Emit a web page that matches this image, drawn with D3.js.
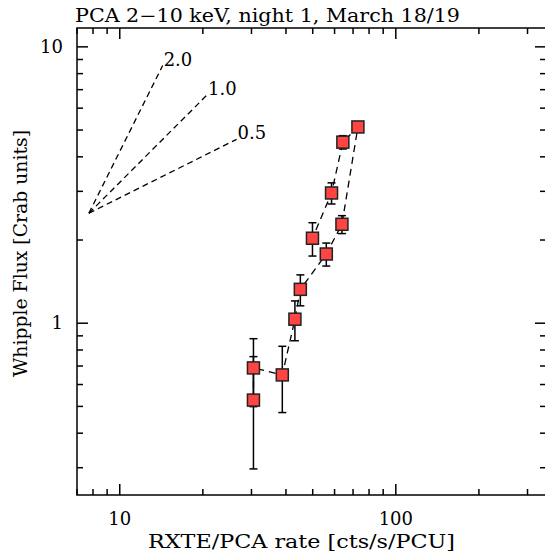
<!DOCTYPE html>
<html>
<head>
<meta charset="utf-8">
<script src="https://cdn.jsdelivr.net/npm/d3@7"></script>
<style>
  html, body { margin: 0; padding: 0; background: #fff; }
  svg text { font-family: 'DejaVu Serif', 'Liberation Serif', serif; fill: #000; }
</style>
</head>
<body>
<div id="chart"></div>
<script>
// count rate (x), Whipple flux (y) and its error, in time order
const rate = [30.5, 30.5, 38.8, 43.1, 45.1, 56.0, 63.8, 72.9, 64.3, 58.5, 49.9]
const flux = [0.527, 0.689, 0.650, 1.034, 1.326, 1.78, 2.28, 5.13, 4.52, 2.96, 2.03]
const fluxErr = [0.23, 0.19, 0.175, 0.17, 0.17, 0.17, 0.17, 0.2, 0.25, 0.26, 0.28]

// slope guide lines
const slopeLabels = ['2.0', '1.0', '0.5']
const slopes = [2.0, 1.0, 0.5]
const slopeEndX = [14.3, 20.7, 26.5]
const slopeOrigin = [7.73, 2.5]

const xMajor = [10, 100]
const yMajor = [1, 10]

const W = 545, H = 552
const mLeft = 77, mRight = 546, mTop = 28, mBottom = 495

const svg = d3.select('#chart').append('svg')
  .attr('width', W)
  .attr('height', H)

const x = d3.scaleLog().domain([7, 350]).range([mLeft, mRight])
const y = d3.scaleLog().domain([0.239, 11.7]).range([mBottom, mTop])

// ticks (pointing inward, on all four sides)
const xTicks = x.ticks().filter(d => d >= 7 && d <= 350)
const yTicks = y.ticks().filter(d => d >= 0.239 && d <= 11.7)
const tickLen = d => (xMajor.includes(d) || yMajor.includes(d)) ? 11 : 6

const axes = svg.append('g').attr('stroke', '#000').attr('stroke-width', 1.5)
xTicks.forEach(d => {
  axes.append('line').attr('x1', x(d)).attr('x2', x(d))
    .attr('y1', mBottom).attr('y2', mBottom - tickLen(d))
  axes.append('line').attr('x1', x(d)).attr('x2', x(d))
    .attr('y1', mTop).attr('y2', mTop + tickLen(d))
})
yTicks.forEach(d => {
  axes.append('line').attr('y1', y(d)).attr('y2', y(d))
    .attr('x1', mLeft).attr('x2', mLeft + tickLen(d))
  axes.append('line').attr('y1', y(d)).attr('y2', y(d))
    .attr('x1', mRight).attr('x2', mRight - tickLen(d))
})
axes.append('rect')
  .attr('x', mLeft).attr('y', mTop)
  .attr('width', mRight - mLeft).attr('height', mBottom - mTop)
  .attr('fill', 'none')

// tick labels
xMajor.forEach(d => {
  svg.append('text').attr('x', x(d)).attr('y', 525)
    .attr('text-anchor', 'middle').attr('font-size', 18).text(d)
})
yMajor.forEach(d => {
  svg.append('text').attr('x', 63).attr('y', y(d) + 6)
    .attr('text-anchor', 'end').attr('font-size', 18).text(d)
})

// titles
svg.append('text').attr('x', 75).attr('y', 22)
  .attr('font-size', 18).attr('textLength', 385).attr('lengthAdjust', 'spacingAndGlyphs')
  .text('PCA 2\u221210 keV, night 1, March 18/19')
svg.append('text').attr('x', 148).attr('y', 548)
  .attr('font-size', 18).attr('textLength', 307).attr('lengthAdjust', 'spacingAndGlyphs')
  .text('RXTE/PCA rate [cts/s/PCU]')
svg.append('text')
  .attr('transform', 'translate(27,377) rotate(-90)')
  .attr('font-size', 18).attr('textLength', 247).attr('lengthAdjust', 'spacingAndGlyphs')
  .text('Whipple Flux [Crab units]')

// slope guides
const guides = svg.append('g')
slopes.forEach((s, i) => {
  const x0 = slopeOrigin[0], y0 = slopeOrigin[1]
  const x1 = slopeEndX[i]
  const y1 = y0 * Math.pow(x1 / x0, s)
  guides.append('line')
    .attr('x1', x(x0)).attr('y1', y(y0))
    .attr('x2', x(x1)).attr('y2', y(y1))
    .attr('stroke', '#000').attr('stroke-width', 1.3)
    .attr('stroke-dasharray', '6,4')
  guides.append('text')
    .attr('x', x(x1) + 1).attr('y', y(y1))
    .attr('font-family', 'Liberation Sans, Arial, sans-serif')
    .attr('font-size', 18)
    .text(slopeLabels[i])
})

// connecting dashed line
const pts = rate.map((r, i) => [r, flux[i]])
svg.append('path')
  .attr('d', d3.line().x(d => x(d[0])).y(d => y(d[1]))(pts))
  .attr('fill', 'none').attr('stroke', '#000').attr('stroke-width', 1.3)
  .attr('stroke-dasharray', '7,5')

// error bars
const err = svg.append('g').attr('stroke', '#000').attr('stroke-width', 1.5)
pts.forEach((p, i) => {
  const cx = x(p[0])
  const yHi = y(p[1] + fluxErr[i]), yLo = y(p[1] - fluxErr[i])
  err.append('line').attr('x1', cx).attr('x2', cx).attr('y1', yHi).attr('y2', yLo)
  err.append('line').attr('x1', cx - 4).attr('x2', cx + 4).attr('y1', yHi).attr('y2', yHi)
  err.append('line').attr('x1', cx - 4).attr('x2', cx + 4).attr('y1', yLo).attr('y2', yLo)
})

// markers
svg.append('g').selectAll('rect')
  .data(pts)
  .enter()
  .append('rect')
  .attr('x', d => x(d[0]) - 6)
  .attr('y', d => y(d[1]) - 6)
  .attr('width', 12)
  .attr('height', 12)
  .attr('fill', '#ff4444')
  .attr('stroke', '#222')
  .attr('stroke-width', 1.5)
</script>
</body>
</html>
